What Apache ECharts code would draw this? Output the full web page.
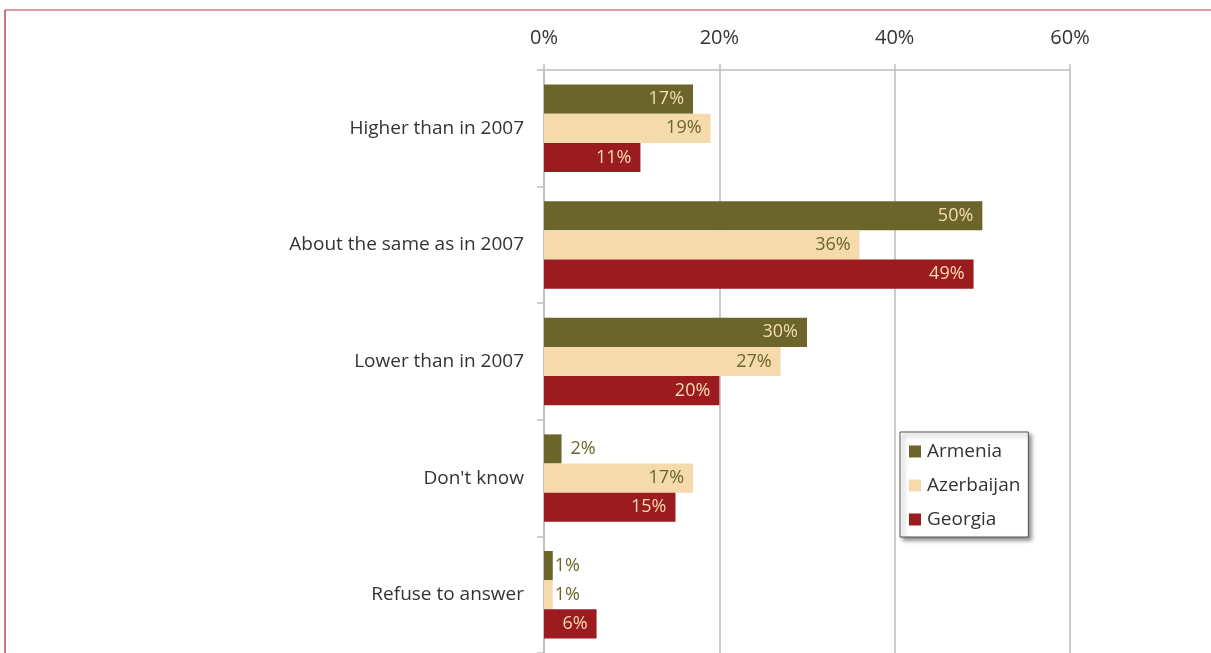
<!DOCTYPE html>
<html>
<head>
<meta charset="utf-8">
<script src="https://cdn.jsdelivr.net/npm/echarts@6/dist/echarts.min.js"></script>
<style>
  html, body { margin: 0; padding: 0; background: #fff; }
  #chart { width: 1211px; height: 653px; }
</style>
</head>
<body>
<div id="chart"></div>
<script>
// Answers to the question, by country (percent of respondents)
const categories = ['Higher than in 2007', 'About the same as in 2007', 'Lower than in 2007', "Don't know", 'Refuse to answer'];
const seriesNames = ['Armenia', 'Azerbaijan', 'Georgia'];
const armenia = [17, 50, 30, 2, 1];
const azerbaijan = [19, 36, 27, 17, 1];
const georgia = [11, 49, 20, 15, 6];
const tickValues = [0, 20, 40, 60];

const FONT = '"Open Sans", "DejaVu Sans", sans-serif';
const OLIVE = '#6b652b';
const TAN = '#f5dbab';
const RED = '#9b1b1f';
const CREAM = '#f5dcb0';

// Small bars carry their label just outside the bar end
function withLabels(values, insideColor) {
  return values.map(v => {
    if (v <= 2) {
      return {
        value: v,
        label: { position: 'right', distance: v === 1 ? 2 : 9, color: OLIVE }
      };
    }
    return { value: v, label: { color: insideColor } };
  });
}

function barSeries(name, values, color, labelColor) {
  return {
    name: name,
    type: 'bar',
    barGap: '0%',
    barCategoryGap: '25%',
    itemStyle: { color: color },
    label: {
      show: true,
      position: 'insideRight',
      distance: 9,
      formatter: '{c}%',
      fontFamily: FONT,
      fontSize: 18,
      color: labelColor
    },
    data: withLabels(values, labelColor)
  };
}

const chart = echarts.init(document.getElementById('chart'), null, { renderer: 'canvas' });
chart.setOption({
  animation: false,
  backgroundColor: '#ffffff',
  grid: { left: 544, top: 70, width: 526, height: 587, containLabel: false },
  xAxis: {
    type: 'value',
    position: 'top',
    min: tickValues[0],
    max: tickValues[tickValues.length - 1],
    interval: 20,
    axisLine: { show: true, lineStyle: { color: '#bdbdbd', width: 1.5 } },
    axisTick: { show: true, length: 6, lineStyle: { color: '#bdbdbd', width: 1.5 } },
    splitLine: { show: true, lineStyle: { color: '#bdbdbd', width: 1.5 } },
    axisLabel: {
      margin: 22,
      fontFamily: FONT,
      fontSize: 20,
      color: '#333333',
      formatter: v => v + '%'
    }
  },
  yAxis: {
    type: 'category',
    inverse: true,
    data: categories,
    axisLine: { show: true, lineStyle: { color: '#bdbdbd', width: 1.5 } },
    axisTick: { show: true, length: 7, lineStyle: { color: '#bdbdbd', width: 1.5 } },
    axisLabel: {
      margin: 20,
      fontFamily: FONT,
      fontSize: 19,
      color: '#333333',
      padding: [5, 0, 0, 0]
    }
  },
  legend: {
    orient: 'vertical',
    left: 900,
    top: 432,
    data: seriesNames,
    icon: 'rect',
    itemWidth: 12,
    itemHeight: 12,
    itemGap: 15,
    padding: [10, 8, 8, 9],
    backgroundColor: '#ffffff',
    borderColor: '#555555',
    borderWidth: 1,
    shadowColor: 'rgba(0,0,0,0.45)',
    shadowBlur: 4,
    shadowOffsetX: 3,
    shadowOffsetY: 3,
    textStyle: { fontFamily: FONT, fontSize: 19, color: '#333333', padding: [0, 0, 0, 1] }
  },
  graphic: [
    { type: 'line', shape: { x1: 5, y1: 10, x2: 1211, y2: 10 }, style: { stroke: '#d47a7c', lineWidth: 1.5 }, silent: true },
    { type: 'line', shape: { x1: 5, y1: 10, x2: 5, y2: 653 }, style: { stroke: '#b4484b', lineWidth: 1.5 }, silent: true }
  ],
  series: [
    barSeries(seriesNames[0], armenia, OLIVE, CREAM),
    barSeries(seriesNames[1], azerbaijan, TAN, OLIVE),
    barSeries(seriesNames[2], georgia, RED, CREAM)
  ]
});
</script>
</body>
</html>
